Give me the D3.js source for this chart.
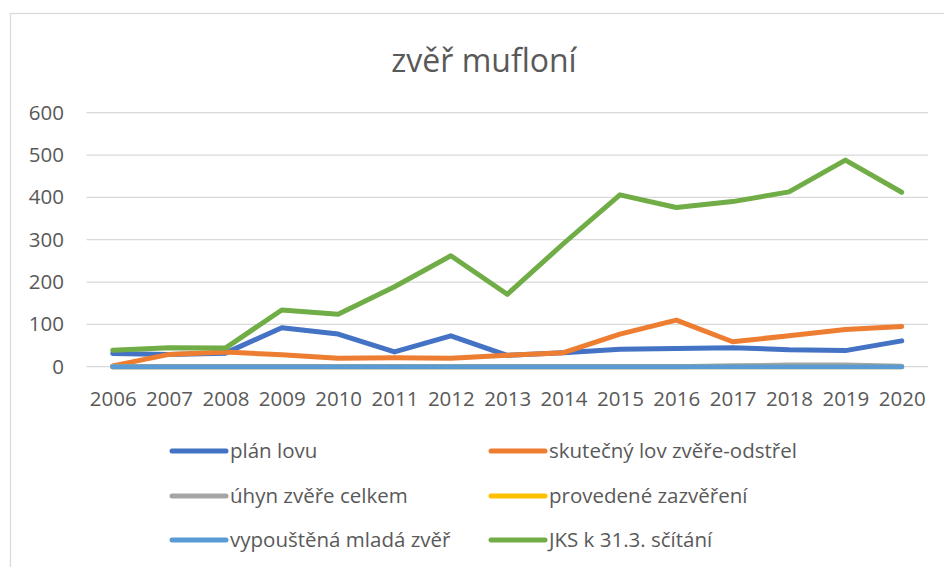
<!DOCTYPE html>
<meta charset="utf-8">
<style>

body {
  margin: 0;
  background: #fff;
  font-family: "Open Sans", sans-serif;
}

text {
  fill: #595959;
}

.grid line {
  stroke: #d9d9d9;
  stroke-width: 1.3;
}

.series {
  fill: none;
  stroke-width: 5;
  stroke-linejoin: round;
  stroke-linecap: round;
}

</style>
<body>
<script src="https://cdn.jsdelivr.net/npm/d3@7"></script>
<script>

var years = ["2006", "2007", "2008", "2009", "2010", "2011", "2012", "2013", "2014", "2015", "2016", "2017", "2018", "2019", "2020"];
var yTicks = [0, 100, 200, 300, 400, 500, 600];

var seriesNames = ["plán lovu", "skutečný lov zvěře-odstřel", "úhyn zvěře celkem", "provedené zazvěření", "vypouštěná mladá zvěř", "JKS k 31.3. sčítání"];
var seriesColors = ["#4472C4", "#ED7D31", "#A5A5A5", "#FFC000", "#5B9BD5", "#70AD47"];

var planLovu   = [31, 29, 32, 92, 77, 35, 73, 27, 33, 41, 43, 45, 40, 38, 61];
var odstrel    = [2, 29, 35, 28, 20, 21, 20, 27, 33, 77, 110, 59, 73, 88, 95];
var uhyn       = [0, 0, 0, 0, 0, 0, 0, 0, 0, 0, 0, 2, 4, 4, 1];
var zazvereni  = [0, 0, 0, 0, 0, 0, 0, 0, 0, 0, 0, 0, 0, 0, 0];
var vypoustena = [0, 0, 0, 0, 0, 0, 0, 0, 0, 0, 0, 0, 0, 0, 0];
var jks        = [39, 45, 44, 134, 124, 189, 262, 171, 291, 406, 376, 390, 413, 488, 412];

var allSeries = [planLovu, odstrel, uhyn, zazvereni, vypoustena, jks];

var width = 944, height = 567;

var x = d3.scalePoint().domain(years).range([84.5, 929.9]).padding(0.5);
var y = d3.scaleLinear().domain([0, 600]).range([366.7, 112.7]);

var svg = d3.select("body").append("svg")
    .attr("width", width)
    .attr("height", height);

// chart frame (only top and left edges are inside the picture)
svg.append("rect")
    .attr("x", 10.5)
    .attr("y", 13.5)
    .attr("width", 1000)
    .attr("height", 1000)
    .attr("fill", "#fff")
    .attr("stroke", "#d9d9d9")
    .attr("stroke-width", 1.3);

svg.append("text")
    .attr("x", 484)
    .attr("y", 72)
    .attr("text-anchor", "middle")
    .style("font-size", "32px")
    .text("zvěř mufloní");

// gridlines
svg.append("g")
    .attr("class", "grid")
  .selectAll("line")
    .data(yTicks)
  .enter().append("line")
    .attr("x1", 86.5)
    .attr("x2", 928)
    .attr("y1", function(d) { return y(d); })
    .attr("y2", function(d) { return y(d); });

// y axis labels
var yAxis = svg.append("g")
    .attr("transform", "translate(64,0)")
    .call(d3.axisLeft(y).tickValues(yTicks).tickSize(0).tickPadding(0));
yAxis.select(".domain").remove();
yAxis.selectAll("text")
    .style("font-size", "20.5px")
    .style("font-family", "'Open Sans', sans-serif")
    .attr("fill", "#595959");

// x axis labels
var xAxis = svg.append("g")
    .attr("transform", "translate(0,385)")
    .call(d3.axisBottom(x).tickSize(0).tickPadding(6));
xAxis.select(".domain").remove();
xAxis.selectAll("text")
    .style("font-size", "20.5px")
    .style("font-family", "'Open Sans', sans-serif")
    .attr("fill", "#595959");

var line = d3.line()
    .x(function(d, i) { return x(years[i]); })
    .y(function(d) { return y(d); });

svg.selectAll("path.series")
    .data(allSeries)
  .enter().append("path")
    .attr("class", "series")
    .attr("stroke", function(d, i) { return seriesColors[i]; })
    .attr("d", line);

// legend
var legend = svg.selectAll("g.legend")
    .data(seriesNames)
  .enter().append("g")
    .attr("class", "legend")
    .attr("transform", function(d, i) {
      return "translate(" + (i % 2 ? 491 : 172) + "," + [451, 496, 540][Math.floor(i / 2)] + ")";
    });

legend.append("line")
    .attr("x1", 0)
    .attr("x2", 54)
    .attr("stroke", function(d, i) { return seriesColors[i]; })
    .attr("stroke-width", 5)
    .attr("stroke-linecap", "round");

legend.append("text")
    .attr("x", 58)
    .attr("dy", "0.35em")
    .style("font-size", "20.5px")
    .text(function(d) { return d; });

</script>
